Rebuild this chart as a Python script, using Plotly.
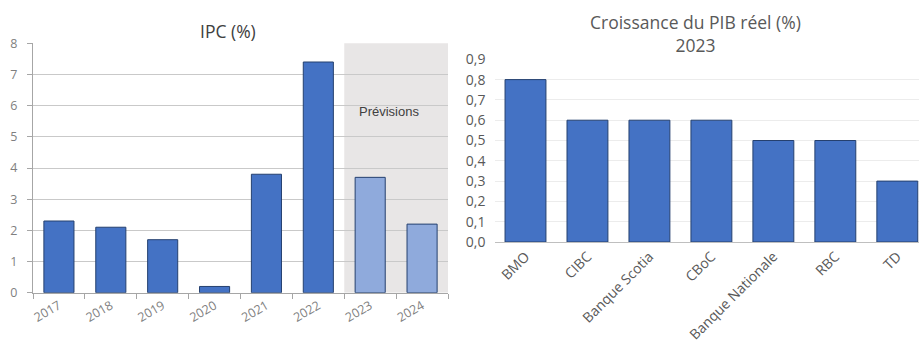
import plotly.graph_objects as go

years = ["2017", "2018", "2019", "2020", "2021", "2022", "2023", "2024"]
ipc = [2.3, 2.1, 1.7, 0.2, 3.8, 7.4, 3.7, 2.2]
is_forecast = [False, False, False, False, False, False, True, True]

banks = ["BMO", "CIBC", "Banque Scotia", "CBoC", "Banque Nationale", "RBC", "TD"]
pib = [0.8, 0.6, 0.6, 0.6, 0.5, 0.5, 0.3]

C_MAIN = "#4472c4"
C_FC = "#8faadc"
C_EDGE = "#25406f"
FONT = "Open Sans"

fig = go.Figure()

fig.add_trace(go.Bar(
    x=years, y=ipc, xaxis="x", yaxis="y",
    marker=dict(color=[C_FC if f else C_MAIN for f in is_forecast],
                line=dict(color=C_EDGE, width=1)),
    showlegend=False,
))
fig.add_trace(go.Bar(
    x=banks, y=pib, xaxis="x2", yaxis="y2",
    marker=dict(color=C_MAIN, line=dict(color=C_EDGE, width=1)),
    showlegend=False, width=0.66,
))

W, H = 919, 349
def px(v): return v / W
def py(v): return 1 - v / H

fig.update_layout(
    width=W, height=H,
    margin=dict(l=0, r=0, t=0, b=0, autoexpand=False),
    paper_bgcolor="white", plot_bgcolor="rgba(0,0,0,0)",
    separators=", ",
    bargap=0.42,
    font=dict(family=FONT, color="#595959", size=11),
    xaxis=dict(domain=[px(33), px(448)], anchor="y", type="category",
               range=[-0.5, 7.5], showgrid=False, showline=True,
               automargin=False,
               linecolor="#a6a6a6", linewidth=1, ticks="outside",
               tickson="boundaries", ticklen=5, tickcolor="#a6a6a6",
               tickangle=-30, tickfont=dict(size=12.5, color="#7f7f7f")),
    yaxis=dict(domain=[py(292.7), py(43.3)], anchor="x", range=[0, 8],
               automargin=False,
               dtick=1, showgrid=True, gridcolor="#c9c9c9", gridwidth=1,
               showline=True, linecolor="#a6a6a6", ticks="outside",
               ticklen=5, tickcolor="#a6a6a6", zeroline=False,
               ticklabelstandoff=7,
               tickfont=dict(size=12.5, color="#7f7f7f")),
    xaxis2=dict(domain=[px(494.5), 1.0], anchor="y2", type="category",
                range=[-0.5, 6.35], showgrid=False, showline=True,
                automargin=False,
                linecolor="#bfbfbf", linewidth=1, ticks="",
                tickangle=-45, tickfont=dict(size=14, color="#595959")),
    yaxis2=dict(domain=[py(242), py(59.3)], anchor="x2", range=[0, 0.9],
                automargin=False,
                dtick=0.1, tickformat=".1f", showgrid=True,
                gridcolor="#ececec", gridwidth=1, zeroline=False,
                showline=False, ticks="", ticklabelstandoff=8,
                tickfont=dict(size=14, color="#595959")),
    shapes=[dict(type="rect", xref="x", yref="y", x0=5.5, x1=7.5,
                 y0=0, y1=8.05, fillcolor="#e8e6e6", line=dict(width=0),
                 layer="below")],
    annotations=[
        dict(text="IPC (%)", x=px(228), y=py(31), xref="paper", yref="paper",
             xanchor="center", yanchor="middle",
             showarrow=False, font=dict(size=17.5, color="#404040", family=FONT)),
        dict(text="Prévisions", x=6.36, y=5.8, xref="x", yref="y",
             xanchor="center", yanchor="middle",
             showarrow=False, font=dict(size=13, color="#404040",
                                        family="Liberation Sans")),
        dict(text="Croissance du PIB réel (%)<br>2023", x=px(695), y=py(33),
             xref="paper", yref="paper", showarrow=False, align="center",
             xanchor="center", yanchor="middle",
             font=dict(size=17.5, color="#595959", family=FONT)),
    ],
)

fig.write_html("out.html")
